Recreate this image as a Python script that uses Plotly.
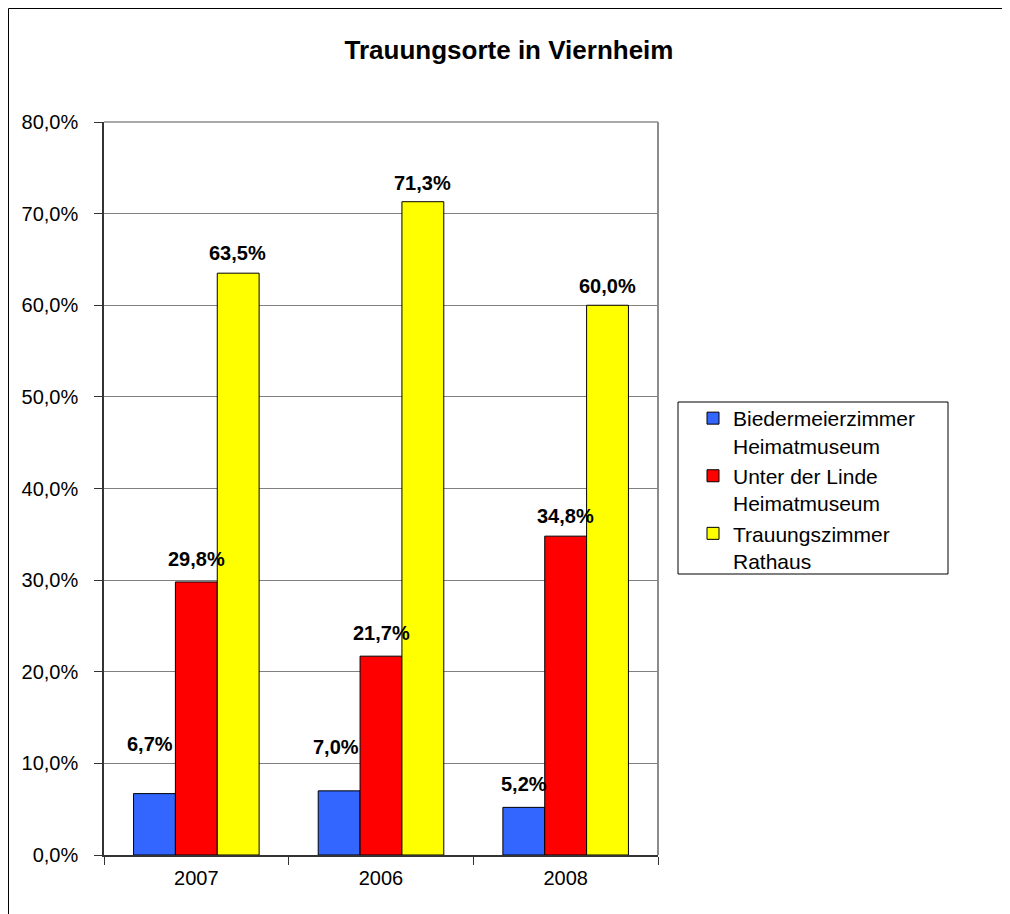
import plotly.graph_objects as go

# ---- data ----
years = ["2007", "2006", "2008"]
series_names = ["Biedermeierzimmer<br>Heimatmuseum",
                "Unter der Linde<br>Heimatmuseum",
                "Trauungszimmer<br>Rathaus"]
biedermeier = [6.7, 7.0, 5.2]
unter_linde = [29.8, 21.7, 34.8]
trauzimmer = [63.5, 71.3, 60.0]
y_ticks = [0, 10, 20, 30, 40, 50, 60, 70, 80]
y_tick_labels = ["0,0%", "10,0%", "20,0%", "30,0%", "40,0%",
                 "50,0%", "60,0%", "70,0%", "80,0%"]

# ---- styling ----
colors = ["#3366FF", "#FF0000", "#FFFF00"]
FONT = "Liberation Sans, Arial, sans-serif"
OFF = 8  # page body margin of the browser
W, H = 1010, 914
ML = 104 - OFF
MT = 122 - OFF
PLOT_R = 658 - OFF
PLOT_B = 855 - OFF
MR = W - PLOT_R
MB = H - PLOT_B
BARGAP = 0.32
# vertical lift (px) of each data label above its bar top, per series / category
label_lift = [[50, 44, 23], [23, 23, 20], [20, 19, 19]]
label_dx = [[-4, -3, 0], [0, 0, 0], [-1, 0, 0]]

values = [biedermeier, unter_linde, trauzimmer]

fig = go.Figure()
for name, vals, col in zip(series_names, values, colors):
    fig.add_trace(go.Bar(
        x=years, y=vals, name=name,
        marker=dict(color=col, line=dict(color="black", width=1)),
    ))

pw = W - ML - MR
ph = H - MT - MB
slot = (1 - BARGAP) / 3

annotations = []
for j, vals in enumerate(values):
    for i, v in enumerate(vals):
        annotations.append(dict(
            x=i + (j - 1) * slot, y=v, xref="x", yref="y",
            text="<b>" + f"{v:.1f}".replace(".", ",") + "%</b>",
            showarrow=False, yanchor="middle", xanchor="center",
            yshift=label_lift[j][i], xshift=label_dx[j][i],
            font=dict(family=FONT, size=20, color="black"),
        ))

def px_to_paper_x(px):  # px in reference screenshot coordinates
    return (px - OFF - ML) / pw

def px_to_paper_y(py):
    return (PLOT_B - (py - OFF)) / ph

shapes = [
    # top and right border of plot area
    dict(type="line", xref="paper", yref="paper", x0=0, x1=1, y0=1, y1=1,
         line=dict(color="#8c8c8c", width=1.5)),
    dict(type="line", xref="paper", yref="paper", x0=1, x1=1, y0=0, y1=1,
         line=dict(color="#8c8c8c", width=2)),
    # legend box
    dict(type="rect", xref="paper", yref="paper",
         x0=px_to_paper_x(678), x1=px_to_paper_x(948),
         y0=px_to_paper_y(574), y1=px_to_paper_y(402),
         line=dict(color="black", width=1), fillcolor="rgba(0,0,0,0)"),
    # outer chart border
    dict(type="rect", xref="paper", yref="paper",
         x0=px_to_paper_x(8.5), x1=px_to_paper_x(1030),
         y0=px_to_paper_y(960), y1=px_to_paper_y(8.5),
         line=dict(color="black", width=1), fillcolor="rgba(0,0,0,0)"),
]

fig.update_layout(
    width=W, height=H, autosize=False,
    margin=dict(l=ML, r=MR, t=MT, b=MB, pad=0),
    paper_bgcolor="white", plot_bgcolor="white",
    barmode="group", bargap=BARGAP, bargroupgap=0,
    font=dict(family=FONT, size=20, color="black"),
    title=dict(text="<b>Trauungsorte in Viernheim</b>", x=(509 - OFF) / W, xref="container",
               y=1 - (50 - OFF) / H, yref="container", yanchor="middle", xanchor="center",
               font=dict(family=FONT, size=26, color="black")),
    legend=dict(x=px_to_paper_x(693), y=px_to_paper_y(398), xanchor="left", yanchor="top",
                xref="paper", yref="paper", bgcolor="rgba(0,0,0,0)", borderwidth=0,
                font=dict(family=FONT, size=21, color="black"), valign="top",
                traceorder="normal"),
    annotations=annotations,
    shapes=shapes,
)
fig.update_xaxes(type="category", showgrid=False, showline=True, linecolor="#333333", linewidth=1.5,
                 ticks="outside", tickson="boundaries", ticklen=8, tickcolor="#333333",
                 tickfont=dict(family=FONT, size=20, color="black"), ticklabelstandoff=4)
fig.update_yaxes(range=[0, 80], tickvals=y_ticks, ticktext=y_tick_labels,
                 showgrid=True, gridcolor="#808080", gridwidth=1,
                 showline=True, linecolor="#333333", linewidth=1.5,
                 ticks="outside", ticklen=8, tickcolor="#333333", zeroline=False,
                 tickfont=dict(family=FONT, size=20, color="black"), ticklabelstandoff=12)

fig.write_html("out.html")
